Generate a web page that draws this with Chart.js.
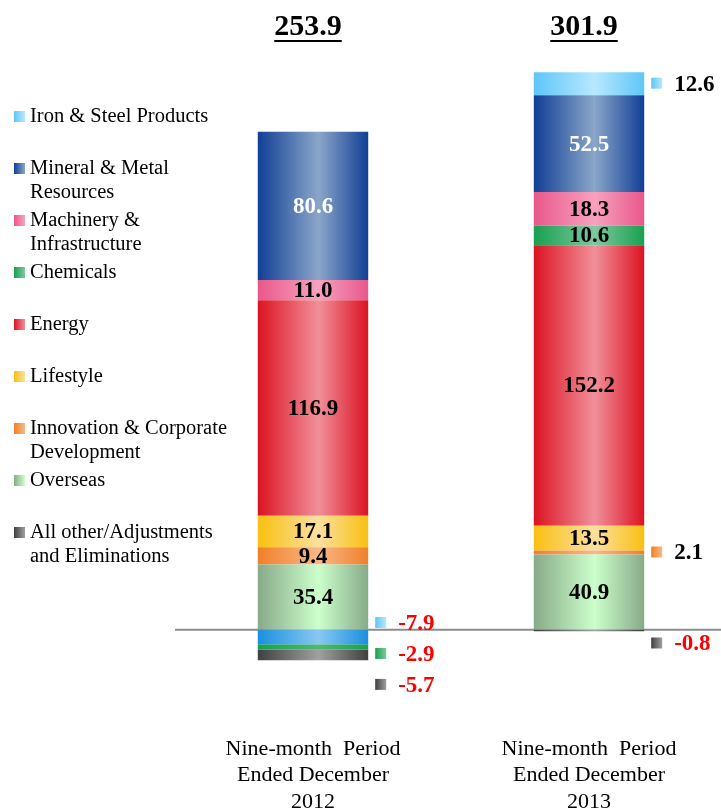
<!DOCTYPE html>
<html>
<head>
<meta charset="utf-8">
<script src="https://cdn.jsdelivr.net/npm/chart.js@4.4.1/dist/chart.umd.min.js"></script>
<style>
  html, body { margin: 0; padding: 0; background: #fff; overflow: hidden; }
  #wrap { width: 727px; height: 818px; }
</style>
</head>
<body>
<div id="wrap"><canvas id="segmentChart" width="727" height="818"></canvas></div>
<script>
const periods = [
  ['Nine-month  Period', 'Ended December', '2012'],
  ['Nine-month  Period', 'Ended December', '2013']
];
const totals = [253.9, 301.9];

// legend order, top to bottom
const segments = [
  'Iron & Steel Products',
  'Mineral & Metal Resources',
  'Machinery & Infrastructure',
  'Chemicals',
  'Energy',
  'Lifestyle',
  'Innovation & Corporate Development',
  'Overseas',
  'All other/Adjustments and Eliminations'
];
const legendLines = [
  ['Iron & Steel Products'],
  ['Mineral & Metal', 'Resources'],
  ['Machinery &', 'Infrastructure'],
  ['Chemicals'],
  ['Energy'],
  ['Lifestyle'],
  ['Innovation & Corporate', 'Development'],
  ['Overseas'],
  ['All other/Adjustments', 'and Eliminations']
];
const values2012 = [-7.9, 80.6, 11.0, -2.9, 116.9, 17.1, 9.4, 35.4, -5.7];
const values2013 = [12.6, 52.5, 18.3, 10.6, 152.2, 13.5, 2.1, 40.9, -0.8];

// shaded fill: edge colour and centre colour of each segment
const edgeColors = ['#5ec6f7', '#123f96', '#e8588a', '#18a050', '#dc1322', '#f8c010', '#f08028', '#88aa88', '#404040'];
const centerColors = ['#b8e8ff', '#8aa6c8', '#f8a2c0', '#80c8a0', '#f0909a', '#fce0a0', '#f8b888', '#ccffcc', '#a0a0a0'];
const negativeShades = { 0: ['#1a8fe0', '#88c8f0'], 3: ['#18a050', '#50b878'] };

const byPeriod = [values2012, values2013];
const BAR_SHARE = 0.4;

function shade(ctx, seg) {
  const chart = ctx.chart;
  const v = ctx.raw;
  const pair = v < 0 && negativeShades[seg] ? negativeShades[seg] : [edgeColors[seg], centerColors[seg]];
  if (!chart.chartArea || v === null || v === undefined) return pair[0];
  const x = chart.scales.x;
  const cx = x.getPixelForValue(ctx.dataIndex);
  const half = (x.width / periods.length) * BAR_SHARE / 2;
  const g = chart.ctx.createLinearGradient(cx - half, 0, cx + half, 0);
  g.addColorStop(0, pair[0]);
  g.addColorStop(0.55, pair[1]);
  g.addColorStop(1, pair[0]);
  return g;
}

function makeDataset(seg, sign) {
  return {
    label: segments[seg],
    seg: seg,
    data: byPeriod.map(v => (sign < 0 ? (v[seg] < 0 ? v[seg] : null) : (v[seg] >= 0 ? v[seg] : null))),
    backgroundColor: ctx => shade(ctx, seg),
    borderWidth: 0
  };
}

// negatives stack down from zero in legend order, positives stack up from the bottom of the legend
const datasets = [];
segments.forEach((_, i) => datasets.push(makeDataset(i, -1)));
for (let i = segments.length - 1; i >= 0; i--) datasets.push(makeDataset(i, 1));

function markerFill(c, seg, x) {
  const g = c.createLinearGradient(x, 0, x + 11, 0);
  g.addColorStop(0, edgeColors[seg]);
  g.addColorStop(1, centerColors[seg]);
  return g;
}

const zeroLine = {
  id: 'zeroLine',
  beforeDatasetsDraw(chart) {
    const c = chart.ctx;
    const y = chart.scales.y.getPixelForValue(0);
    c.save();
    c.strokeStyle = '#8c8c8c';
    c.lineWidth = 2;
    c.beginPath();
    c.moveTo(chart.chartArea.left, y);
    c.lineTo(chart.chartArea.right, y);
    c.stroke();
    c.restore();
  }
};

const valueLabels = {
  id: 'valueLabels',
  afterDatasetsDraw(chart, args, opts) {
    const c = chart.ctx;
    c.save();
    c.font = 'bold 23px "Liberation Serif"';
    c.textBaseline = 'middle';
    chart.data.datasets.forEach((ds, di) => {
      chart.getDatasetMeta(di).data.forEach((bar, bi) => {
        const v = ds.data[bi];
        if (v === null) return;
        const seg = ds.seg;
        const mid = (bar.y + bar.base) / 2;
        const outside = seg === 0 || v < 0 || Math.abs(v) < 5;
        if (!outside) {
          c.fillStyle = seg === 1 ? '#ffffff' : '#000000';
          c.textAlign = 'center';
          c.fillText(v.toFixed(1), bar.x, mid + 1);
          return;
        }
        const y = mid + (opts.nudge[seg + '-' + bi] || 0);
        const right = bar.x + bar.width / 2;
        c.fillStyle = markerFill(c, seg, right + 7);
        c.fillRect(right + 7, y - 6, 11, 11);
        c.fillStyle = v < 0 ? '#ff0000' : '#000000';
        c.textAlign = 'left';
        c.fillText(v.toFixed(1), right + 30, y + 1);
      });
    });
    c.restore();
  }
};

const totalsTitle = {
  id: 'totalsTitle',
  afterDraw(chart) {
    const c = chart.ctx;
    c.save();
    c.font = 'bold 30px "Liberation Serif"';
    c.textAlign = 'center';
    c.textBaseline = 'middle';
    c.fillStyle = '#000';
    c.strokeStyle = '#000';
    c.lineWidth = 2;
    totals.forEach((t, i) => {
      const x = chart.scales.x.getPixelForValue(i) - 5;
      const txt = t.toFixed(1);
      const w = c.measureText(txt).width;
      c.fillText(txt, x, 27);
      c.beginPath();
      c.moveTo(x - w / 2, 41);
      c.lineTo(x + w / 2, 41);
      c.stroke();
    });
    c.restore();
  }
};

const sideLegend = {
  id: 'sideLegend',
  afterDraw(chart) {
    const c = chart.ctx;
    c.save();
    c.font = '20.5px "Liberation Serif"';
    c.textAlign = 'left';
    c.textBaseline = 'middle';
    legendLines.forEach((lines, i) => {
      const y = 117 + i * 52;
      c.fillStyle = markerFill(c, i, 14);
      c.fillRect(14, y - 6, 11, 11);
      c.fillStyle = '#000';
      lines.forEach((line, li) => c.fillText(line, 30, y + li * 24));
    });
    c.restore();
  }
};

new Chart(document.getElementById('segmentChart'), {
  type: 'bar',
  data: { labels: periods, datasets: datasets },
  options: {
    responsive: false,
    animation: false,
    categoryPercentage: BAR_SHARE,
    barPercentage: 1,
    layout: { padding: { left: 175, top: 20, right: 0, bottom: 0 } },
    scales: {
      x: {
        stacked: true,
        grid: { display: false },
        border: { display: false },
        ticks: {
          color: '#000',
          maxRotation: 0,
          autoSkip: false,
          font: { family: '"Liberation Serif"', size: 22, lineHeight: 1.2 }
        }
      },
      y: {
        stacked: true,
        display: false,
        min: -51.6,
        max: 331
      }
    },
    plugins: {
      legend: { display: false },
      tooltip: { enabled: false },
      valueLabels: { nudge: { '0-0': -14, '3-0': 7, '8-0': 30, '8-1': 13 } }
    }
  },
  plugins: [zeroLine, valueLabels, totalsTitle, sideLegend]
});
</script>
</body>
</html>
